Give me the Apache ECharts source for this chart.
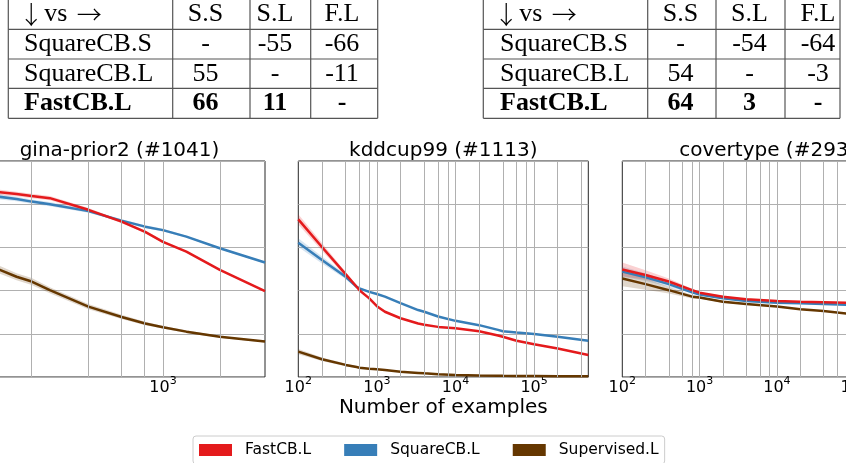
<!DOCTYPE html>
<html>
<head>
<meta charset="utf-8">
<script src="https://cdn.jsdelivr.net/npm/echarts@6/dist/echarts.min.js"></script>
<style>
  html, body { margin: 0; padding: 0; background: #fff; }
  #chart { width: 846px; height: 463px; }
</style>
</head>
<body>
<div id="chart"></div>
<script>
// series names / colours
const seriesNames = ['FastCB.L', 'SquareCB.L', 'Supervised.L'];
const seriesColors = ['#e41a1c', '#377eb8', '#653700'];

// win/loss tables
const colHeads = ['S.S', 'S.L', 'F.L'];
const rowNames = ['SquareCB.S', 'SquareCB.L', 'FastCB.L'];
const winsLeft = [['-', '-55', '-66'], ['55', '-', '-11'], ['66', '11', '-']];
const winsRight = [['-', '-54', '-64'], ['54', '-', '-3'], ['64', '3', '-']];

// gina-prior2 (#1041)
const ginaX = [100, 137, 168, 202, 252, 403, 604, 805, 1000, 1330, 2000, 3468];
const ginaFast = [.435, .4275, .4236, .419, .414, .387, .3595, .336, .313, .29, .248, .199];
const ginaSquare = [.424, .417, .412, .406, .400, .384, .362, .348, .340, .325, .298, .265];
const ginaSup = [.269, .248, .232, .221, .201, .163, .139, .124, .115, .105, .093, .082];
const ginaFastSpread = [.006, .006, .005, .005, .005, .004, .003, .003, .003, .002, .002, .002];
const ginaSquareSpread = [.006, .006, .005, .005, .005, .004, .003, .003, .003, .002, .002, .002];
const ginaSupSpread = [.01, .009, .008, .008, .007, .006, .005, .004, .003, .003, .002, .002];

// kddcup99 (#1113)
const kddX = [100, 200, 400, 552, 600, 800, 1000, 1265, 2000, 3350, 4000, 6000, 1e4, 2e4, 34800, 4e4, 6e4, 1e5, 2e5, 4.9e5];
const kddFast = [.365, .301, .238, .209, .201, .182, .164, .151, .136, .124, .121, .116, .113, .106, .096, .093, .084, .076, .066, .051];
const kddSquare = [.311, .271, .232, .209, .205, .197, .192, .186, .171, .155, .151, .140, .130, .120, .109, .106, .103, .0995, .093, .084];
const kddSup = [.0586, .041, .028, .023, .0216, .019, .0178, .016, .0123, .0095, .0085, .0065, .0046, .0035, .003, .0028, .0025, .0023, .0018, .0015];
const kddFastSpread = [.012, .009, .005, .003, .002, .002, .001, 0, 0, 0, 0, 0, 0, 0, 0, 0, 0, 0, 0, 0];
const kddSquareSpread = [.01, .008, .005, .003, .002, .002, .001, 0, 0, 0, 0, 0, 0, 0, 0, 0, 0, 0, 0, 0];
const kddSupSpread = [.006, .004, .003, .002, .002, .001, .001, 0, 0, 0, 0, 0, 0, 0, 0, 0, 0, 0, 0, 0];

// covertype (#293)
const covX = [100, 200, 400, 800, 1000, 2000, 4000, 1e4, 2e4, 4e4, 8e4, 5.81e5];
const covFast = [.249, .236, .221, .201, .195, .186, .180, .176, .174, .173, .172, .168];
const covSquare = [.244, .231, .215, .196, .191, .182, .176, .172, .171, .169, .167, .162];
const covSup = [.228, .215, .201, .186, .184, .174, .169, .163, .157, .153, .147, .135];
const covFastSpread = [.016, .011, .007, .003, .002, .002, .001, .001, .001, .001, .001, .001];
const covSquareSpread = [.012, .009, .006, .003, .002, .002, .001, .001, .001, .001, .001, .001];
const covSupSpread = [.018, .013, .008, .004, .003, .002, .001, .001, .001, .001, .001, .001];

const gridSubs = [1, 2, 4, 6, 8];

const panels = [
  { title: 'gina-prior2 (#1041)', x: ginaX, ys: [ginaFast, ginaSquare, ginaSup],
    spreads: [ginaFastSpread, ginaSquareSpread, ginaSupSpread], min: 100, max: 3468, left: -26, width: 291 },
  { title: 'kddcup99 (#1113)', x: kddX, ys: [kddFast, kddSquare, kddSup],
    spreads: [kddFastSpread, kddSquareSpread, kddSupSpread], min: 100, max: 4.9e5, left: 298.3, width: 290 },
  { title: 'covertype (#293)', x: covX, ys: [covFast, covSquare, covSup],
    spreads: [covFastSpread, covSquareSpread, covSupSpread], min: 100, max: 5.81e5, left: 622.3, width: 291 }
];

const chart = echarts.init(document.getElementById('chart'), null, { renderer: 'canvas' });

const FONT = '"DejaVu Sans", sans-serif';
const SERIF = '"Liberation Serif", serif';
const ARROW = '"Noto Sans CJK SC", sans-serif';
const grids = [], xAxes = [], yAxes = [], series = [], graphics = [];

function isPow10(v) {
  const l = Math.log10(v);
  return Math.abs(l - Math.round(l)) < 1e-6;
}

panels.forEach((p, gi) => {
  grids.push({ left: p.left, top: 161, width: p.width, height: 216, show: true,
    outerBoundsMode: 'none', containLabel: false,
    borderColor: '#262626', borderWidth: 1, backgroundColor: 'transparent' });
  xAxes.push({
    type: 'log', logBase: 10, gridIndex: gi, min: p.min, max: p.max,
    axisLine: { show: false }, axisTick: { show: false }, splitLine: { show: false },
    axisLabel: {
      margin: -1, showMinLabel: true, showMaxLabel: true, hideOverlap: false,
      formatter: v => isPow10(v) ? '{b|10}{s|' + Math.round(Math.log10(v)) + '}' : '',
      rich: {
        b: { fontSize: 16, lineHeight: 20, verticalAlign: 'bottom', fontFamily: FONT, color: '#000' },
        s: { fontSize: 11, lineHeight: 11, verticalAlign: 'top', fontFamily: FONT, color: '#000' }
      }
    },
    name: gi === 1 ? 'Number of examples' : '',
    nameLocation: 'middle', nameGap: 21,
    nameTextStyle: { fontSize: 20, fontFamily: FONT, color: '#000' }
  });
  yAxes.push({
    type: 'value', gridIndex: gi, min: 0, max: 0.5, interval: 0.1,
    axisLine: { show: false }, axisTick: { show: false }, axisLabel: { show: false },
    splitLine: { lineStyle: { color: '#b0b0b0', width: 1 } }
  });

  // vertical grid lines at 1,2,4,6,8 x 10^k
  const vlines = [];
  for (let k = 1; k <= 6; k++) {
    gridSubs.forEach(s => {
      const v = s * Math.pow(10, k);
      if (v > p.min && v < p.max) vlines.push({ xAxis: v });
    });
  }
  series.push({
    type: 'line', name: 'grid', xAxisIndex: gi, yAxisIndex: gi, data: [], z: 0,
    markLine: { silent: true, symbol: 'none', animation: false, label: { show: false },
      lineStyle: { color: '#b0b0b0', width: 1, type: 'solid' }, data: vlines }
  });

  // confidence bands, drawn as one polygon through the axis scales
  [1, 2, 0].forEach(si => {
    const ys = p.ys[si], sp = p.spreads[si];
    series.push({
      type: 'custom', name: 'band', xAxisIndex: gi, yAxisIndex: gi, z: 1, silent: true,
      data: p.x.map((x, i) => [x, ys[i]]),
      renderItem: (params, api) => {
        if (params.dataIndex !== 0) return null;
        const upper = p.x.map((x, i) => api.coord([x, ys[i] + sp[i]]));
        const lower = p.x.map((x, i) => api.coord([x, ys[i] - sp[i]])).reverse();
        return { type: 'polygon', shape: { points: upper.concat(lower) },
          style: { fill: seriesColors[si], opacity: 0.2 } };
      }
    });
  });

  // mean lines: brown, blue, then red on top
  [2, 1, 0].forEach(si => {
    series.push({
      type: 'line', name: seriesNames[si], xAxisIndex: gi, yAxisIndex: gi, z: 3,
      showSymbol: false, animation: false, color: seriesColors[si],
      lineStyle: { width: 2.5, color: seriesColors[si] },
      data: p.x.map((x, i) => [x, p.ys[si][i]])
    });
  });

  graphics.push({ type: 'text', x: p.left + p.width / 2, y: 151,
    style: { text: p.title, font: '20px ' + FONT, fill: '#000', align: 'center', verticalAlign: 'middle' } });
});

// tables
function txt(text, x, y, font, align) {
  graphics.push({ type: 'text', x: x, y: y,
    style: { text: text, font: font, fill: '#000', align: align, verticalAlign: 'middle' } });
}
function addTable(wins, lines, textX, colX) {
  const rowY = [14.5, 44.2, 73.7, 103.3];
  const b = lines[0];
  txt('\u2193', b + 23, rowY[0] - 0.5, '300 25px ' + ARROW, 'center');
  txt('vs', b + 36, rowY[0], '26px ' + SERIF, 'left');
  txt('\u2192', b + 81, rowY[0] - 0.5, '300 25px ' + ARROW, 'center');
  colHeads.forEach((h, c) => txt(h, colX[c], rowY[0], '26px ' + SERIF, 'center'));
  rowNames.forEach((r, ri) => {
    const font = (ri === 2 ? 'bold ' : '') + '26px ' + SERIF;
    txt(r, textX, rowY[ri + 1], font, 'left');
    wins[ri].forEach((w, c) => txt(w, colX[c], rowY[ri + 1], font, 'center'));
  });
  const xl = lines[0], xr = lines[lines.length - 1];
  [29.3, 59, 88.3, 118.3].forEach(y => graphics.push({ type: 'line',
    shape: { x1: xl, y1: y, x2: xr, y2: y }, style: { stroke: '#555', lineWidth: 1.2 } }));
  lines.forEach(x => graphics.push({ type: 'line',
    shape: { x1: x, y1: 0, x2: x, y2: 118.3 }, style: { stroke: '#555', lineWidth: 1.2 } }));
}
addTable(winsLeft, [8.3, 172.7, 250, 310.7, 377.7], 24, [205.5, 275, 342]);
addTable(winsRight, [483.3, 647.7, 716, 785, 840], 500, [680.5, 749.5, 818]);

chart.setOption({
  backgroundColor: '#fff',
  animation: false,
  grid: grids,
  xAxis: xAxes,
  yAxis: yAxes,
  legend: {
    data: seriesNames, left: 193, top: 436, orient: 'horizontal',
    icon: 'rect', itemWidth: 33, itemHeight: 12, itemGap: 33,
    padding: [6, 6, 6, 6], borderColor: '#cccccc', borderWidth: 1, borderRadius: 3,
    backgroundColor: '#fff',
    textStyle: { fontSize: 15.5, fontFamily: FONT, color: '#000', padding: [0, 0, 0, 8] }
  },
  graphic: graphics,
  series: series
});
</script>
</body>
</html>
